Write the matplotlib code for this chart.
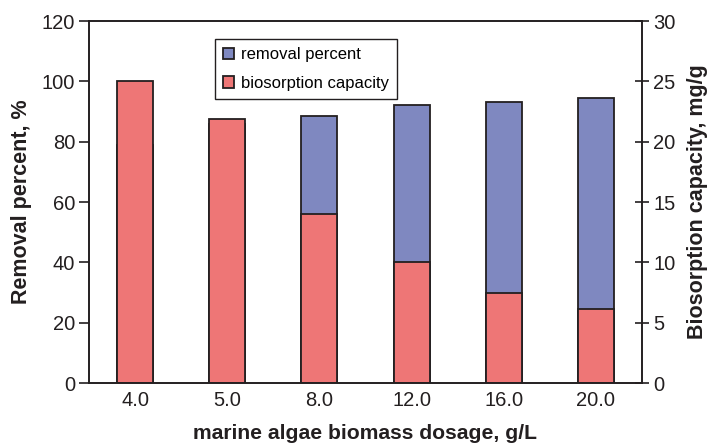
import numpy as np
import matplotlib.pyplot as plt

plt.rcParams['font.family'] = ['Liberation Sans', 'DejaVu Sans']

dosage = ['4.0', '5.0', '8.0', '12.0', '16.0', '20.0']
removal_percent = [79.0, 86.0, 88.4, 92.2, 93.2, 94.6]
biosorption_capacity = [25.0, 21.9, 14.0, 10.05, 7.45, 6.1]

blue = '#7f88c0'
red = '#ee7676'
dark = '#231f20'

fig = plt.figure(figsize=(7.09, 4.48), dpi=100)
ax = fig.add_axes([0.1255, 0.145, 0.78, 0.808])
ax2 = ax.twinx()

x = np.arange(len(dosage))
w = 0.39
b1 = ax.bar(x, removal_percent, w, color=blue, edgecolor=dark, linewidth=1.3,
            label='removal percent', zorder=2)
b2 = ax2.bar(x, biosorption_capacity, w, color=red, edgecolor=dark, linewidth=1.3,
             label='biosorption capacity', zorder=2)

ax.set_xlim(-0.5, 5.5)
ax.set_ylim(0, 120)
ax2.set_ylim(0, 30)
ax.set_yticks(range(0, 121, 20))
ax2.set_yticks(range(0, 31, 5))
ax.set_xticks(x)
ax.set_xticklabels(dosage)

for a in (ax, ax2):
    for s in a.spines.values():
        s.set_color(dark)
        s.set_linewidth(1.2)
ax.tick_params(axis='x', length=0, labelsize=14.5, pad=6, colors=dark)
ax.tick_params(axis='y', direction='out', length=7, width=1.2, labelsize=14.5, pad=3,
               colors=dark)
ax2.tick_params(axis='y', direction='inout', length=10, width=1.2, labelsize=14.5, pad=3,
                colors=dark)

ax.set_xlabel('marine algae biomass dosage, g/L', fontsize=15.2, fontweight='bold',
              labelpad=10, color=dark)
ax.set_ylabel('Removal percent, %', fontsize=15.5, fontweight='bold', labelpad=7, color=dark)
ax2.set_ylabel('Biosorption capacity, mg/g', fontsize=15.5, fontweight='bold', labelpad=8,
               color=dark)

leg = ax2.legend([b1, b2], ['removal percent', 'biosorption capacity'],
                 loc='upper left', bbox_to_anchor=(0.228, 0.95), fontsize=12,
                 fancybox=False, framealpha=1, edgecolor=dark, handlelength=0.65,
                 handleheight=0.65, handletextpad=0.4, borderpad=0.5, labelspacing=0.8,
                 borderaxespad=0)
leg.get_frame().set_linewidth(1.0)

fig.savefig('out.png', dpi=100)
